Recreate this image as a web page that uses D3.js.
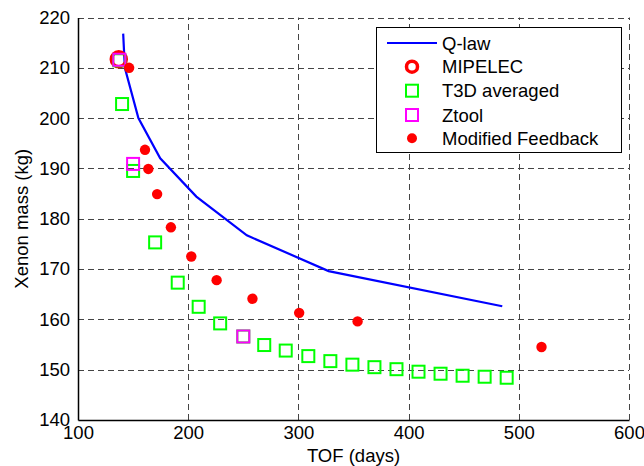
<!DOCTYPE html>
<html>
<head>
<meta charset="utf-8">
<script src="https://cdn.jsdelivr.net/npm/d3@7"></script>
<style>
  body { margin: 0; background: #fff; }
  text { font-family: "Liberation Sans", Arial, Helvetica, sans-serif; }
</style>
</head>
<body>
<script>
// Q-law curve (TOF days, xenon kg)
var qlawTof  = [141, 142.5, 154.8, 174.6, 207.4, 253.2, 327.4, 485];
var qlawMass = [216.8, 210, 200, 192, 184.4, 176.7, 169.6, 162.6];

var mipelecTof  = [137];
var mipelecMass = [211.7];

var t3dTof  = [137.5, 140, 150, 170, 190.5, 209.5, 229, 250, 269, 288.5, 309, 329, 349, 369, 389, 409, 429, 449, 469, 489];
var t3dMass = [211.5, 202.8, 189.5, 175.3, 167.3, 162.5, 159.2, 156.6, 154.9, 153.8, 152.7, 151.7, 151.0, 150.5, 150.1, 149.6, 149.2, 148.8, 148.6, 148.4];

var ztoolTof  = [137.5, 150, 250];
var ztoolMass = [211.6, 190.9, 156.6];

var mfTof  = [146.4, 160.8, 163.8, 171.8, 184.3, 202.8, 225.8, 258.3, 300.7, 353.7, 520.6];
var mfMass = [210, 193.7, 189.9, 184.9, 178.3, 172.5, 167.8, 164.1, 161.3, 159.6, 154.5];

var xTicks = [100, 200, 300, 400, 500, 600];
var yTicks = [140, 150, 160, 170, 180, 190, 200, 210, 220];

var legendNames = ["Q-law", "MIPELEC", "T3D averaged", "Ztool", "Modified Feedback"];

draw();

function draw()
{
        var width = 644,
                height = 466;
        var left = 78, right = 629, top = 17.5, bottom = 420;

        var svg = d3.select("body").append("svg")
                .attr("width", width)
                .attr("height", height);

        var x = d3.scaleLinear().domain([100, 600]).range([left, right]);
        var y = d3.scaleLinear().domain([140, 220]).range([bottom, top]);

        // dashed grid
        var grid = svg.append("g")
                .attr("stroke", "#444")
                .attr("stroke-width", 1)
                .attr("stroke-dasharray", "6,4");
        grid.selectAll(".gx")
                .data(xTicks.slice(1))
                .enter().append("line")
                .attr("x1", d => Math.round(x(d)) + 0.5).attr("x2", d => Math.round(x(d)) + 0.5)
                .attr("y1", bottom).attr("y2", top);
        grid.selectAll(".gy")
                .data(yTicks.slice(1))
                .enter().append("line")
                .attr("x1", left).attr("x2", right)
                .attr("y1", d => Math.round(y(d)) + 0.5).attr("y2", d => Math.round(y(d)) + 0.5);

        // axes
        var xAxis = d3.axisBottom(x).tickValues(xTicks).tickSize(0).tickPadding(6);
        var yAxis = d3.axisLeft(y).tickValues(yTicks).tickSize(0).tickPadding(8);

        var gx = svg.append("g")
                .attr("transform", "translate(0," + bottom + ")")
                .call(xAxis);
        var gy = svg.append("g")
                .attr("transform", "translate(" + left + ",0)")
                .call(yAxis);
        [gx, gy].forEach(function (g) {
                g.select(".domain").attr("stroke", "#000").attr("stroke-width", 1.5);
                g.selectAll("text").attr("font-size", 18.5).attr("fill", "#000")
                        .attr("font-family", "Liberation Sans, Arial, sans-serif");
        });

        svg.append("text")
                .attr("x", (left + right) / 2)
                .attr("y", 462)
                .attr("text-anchor", "middle")
                .attr("font-size", 18.5)
                .text("TOF (days)");
        svg.append("text")
                .attr("transform", "translate(28," + ((top + bottom) / 2) + ") rotate(-90)")
                .attr("text-anchor", "middle")
                .attr("font-size", 18.5)
                .text("Xenon mass (kg)");

        // Q-law
        var line = d3.line()
                .x((d, i) => x(qlawTof[i]))
                .y(d => y(d));
        svg.append("path")
                .datum(qlawMass)
                .attr("d", line)
                .attr("fill", "none")
                .attr("stroke", "#0000ff")
                .attr("stroke-width", 2.2);

        // MIPELEC
        svg.selectAll(".mip")
                .data(mipelecMass)
                .enter().append("circle")
                .attr("cx", (d, i) => x(mipelecTof[i]))
                .attr("cy", d => y(d))
                .attr("r", 7.5)
                .attr("fill", "none")
                .attr("stroke", "#ff0000")
                .attr("stroke-width", 3.5);

        // T3D averaged
        svg.selectAll(".t3d")
                .data(t3dMass)
                .enter().append("rect")
                .attr("x", (d, i) => x(t3dTof[i]) - 6)
                .attr("y", d => y(d) - 6)
                .attr("width", 12).attr("height", 12)
                .attr("fill", "none")
                .attr("stroke", "#00ff00")
                .attr("stroke-width", 2);

        // Ztool
        svg.selectAll(".zt")
                .data(ztoolMass)
                .enter().append("rect")
                .attr("x", (d, i) => x(ztoolTof[i]) - 6)
                .attr("y", d => y(d) - 6)
                .attr("width", 12).attr("height", 12)
                .attr("fill", "none")
                .attr("stroke", "#ff00ff")
                .attr("stroke-width", 2);

        // Modified Feedback
        svg.selectAll(".mf")
                .data(mfMass)
                .enter().append("circle")
                .attr("cx", (d, i) => x(mfTof[i]))
                .attr("cy", d => y(d))
                .attr("r", 5.2)
                .attr("fill", "#ff0000");

        // legend
        var lg = svg.append("g");
        lg.append("rect")
                .attr("x", 376.5).attr("y", 27.5)
                .attr("width", 245).attr("height", 125)
                .attr("fill", "#fff")
                .attr("stroke", "#000")
                .attr("stroke-width", 1);
        var rowY = [43, 66.7, 90.7, 115, 138.3];
        var mx = 412;
        lg.selectAll(".lt")
                .data(legendNames)
                .enter().append("text")
                .attr("x", 442)
                .attr("y", (d, i) => rowY[i] + 6.5)
                .attr("font-size", 18.5)
                .text(d => d);
        lg.append("line")
                .attr("x1", 387).attr("x2", 437)
                .attr("y1", rowY[0]).attr("y2", rowY[0])
                .attr("stroke", "#0000ff").attr("stroke-width", 2.2);
        lg.append("circle")
                .attr("cx", mx).attr("cy", rowY[1]).attr("r", 5.5)
                .attr("fill", "none").attr("stroke", "#ff0000").attr("stroke-width", 3.5);
        lg.append("rect")
                .attr("x", mx - 6).attr("y", rowY[2] - 6).attr("width", 12).attr("height", 12)
                .attr("fill", "none").attr("stroke", "#00ff00").attr("stroke-width", 2);
        lg.append("rect")
                .attr("x", mx - 6).attr("y", rowY[3] - 6).attr("width", 12).attr("height", 12)
                .attr("fill", "none").attr("stroke", "#ff00ff").attr("stroke-width", 2);
        lg.append("circle")
                .attr("cx", mx).attr("cy", rowY[4]).attr("r", 5)
                .attr("fill", "#ff0000");
}
</script>
</body>
</html>
